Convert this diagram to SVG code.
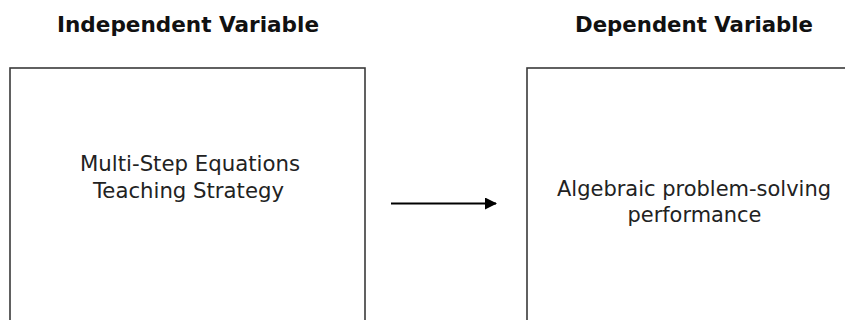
<svg xmlns="http://www.w3.org/2000/svg" width="845" height="320" viewBox="0 0 845 320">
  <style>
    .title { font-family: "DejaVu Sans", Verdana, sans-serif; font-weight: bold; font-size: 21px; fill: #111; text-anchor: middle; }
    .body { font-family: "DejaVu Sans", Verdana, sans-serif; font-size: 21px; fill: #222; text-anchor: middle; }
    .box { fill: #ffffff; stroke: #3a3a3a; stroke-width: 1.6; }
    .conn { stroke: #000; stroke-width: 2; fill: none; }
  </style>
  <defs>
    <marker id="arrow" markerWidth="6" markerHeight="6" refX="5.5" refY="3" orient="auto" markerUnits="strokeWidth">
      <path d="M0,0 L6,3 L0,6 Z" fill="#000"/>
    </marker>
  </defs>
  <rect width="845" height="320" fill="#ffffff"/>
  <g id="title-independent">
    <text class="title" x="188" y="32" textLength="262" lengthAdjust="spacingAndGlyphs">Independent Variable</text>
  </g>
  <g id="title-dependent">
    <text class="title" x="694" y="32" textLength="238" lengthAdjust="spacingAndGlyphs">Dependent Variable</text>
  </g>
  <g id="node-independent">
    <rect class="box" x="10" y="68" width="355" height="280"/>
    <text class="body" x="190" y="171" textLength="220" lengthAdjust="spacingAndGlyphs">Multi-Step Equations</text>
    <text class="body" x="188.5" y="198" textLength="191" lengthAdjust="spacingAndGlyphs">Teaching Strategy</text>
  </g>
  <g id="node-dependent">
    <rect class="box" x="527" y="68" width="355" height="280"/>
    <text class="body" x="694" y="196" textLength="274" lengthAdjust="spacingAndGlyphs">Algebraic problem-solving</text>
    <text class="body" x="694.5" y="222" textLength="134" lengthAdjust="spacingAndGlyphs">performance</text>
  </g>
  <g id="connectors">
    <line class="conn" x1="391" y1="203.5" x2="496" y2="203.5" marker-end="url(#arrow)"/>
  </g>
</svg>
